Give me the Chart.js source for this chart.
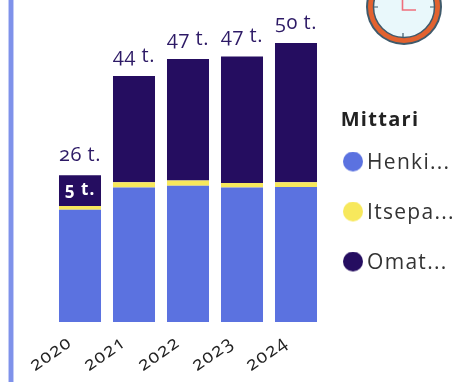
<!DOCTYPE html>
<html><head><meta charset="utf-8">
<style>
html,body{margin:0;padding:0;background:#fff;width:454px;height:382px;overflow:hidden}
#wrap{position:absolute;left:0;top:0;width:454px;height:382px}
#c{font-variant-numeric:oldstyle-nums;font-feature-settings:"onum" 1}
#rule{position:absolute;left:8px;top:0;width:6px;height:382px;background:#7f92ea;border-left:1px solid #c3ccf7;border-right:1px solid #c3ccf7;box-sizing:border-box}
#clock{position:absolute;left:354px;top:0}
</style>
<script src="https://cdn.jsdelivr.net/npm/chart.js@4"></script>
</head><body>
<div id="wrap"><canvas id="c" width="454" height="382"></canvas></div>
<div id="rule"></div>
<svg id="clock" width="100" height="60" viewBox="0 0 100 60">
<circle cx="50" cy="7" r="38" fill="#3f5a6b"/>
<circle cx="50" cy="7" r="36" fill="#e2622f"/>
<circle cx="50" cy="7" r="30.5" fill="#e9f8fb" stroke="#3f5a6b" stroke-width="1.5"/>
<path d="M48.5 -4V10H62" fill="none" stroke="#ef6f7c" stroke-width="1.6"/>
<path d="M49 33V37M20 7H24M80 7H76" stroke="#3f5a6b" stroke-width="1.2"/>
</svg>
<script>
const categories = ['2020','2021','2022','2023','2024'];
const henki = [20.1,24.1,24.4,24.1,24.2];
const itsepa = [0.7,0.95,0.95,0.8,0.85];
const omat = [5.5,19.05,21.8,22.7,24.95];
const totals = ['26 t.','44 t.','47 t.','47 t.','50 t.'];
const seriesNames = ['Henki...','Itsepa...','Omat...'];
const colors = ['#5b72e0','#f7e85c','#250d60'];

function dot(color){
  const s = document.createElement('canvas');
  s.width = 20; s.height = 24;
  const g = s.getContext('2d');
  g.fillStyle = color;
  g.beginPath(); g.arc(10,10,10,0,Math.PI*2); g.fill();
  return s;
}

const labelPlugin = {
  id:'labels',
  afterLayout(chart){
    const l = chart.legend;
    l.left = 320.5; l.width = 119;
    l.top -= 6; l.bottom -= 6;
  },
  beforeDraw(chart){ chart.ctx.letterSpacing = '1.3px'; },
  afterDatasetsDraw(chart){
    const ctx = chart.ctx, top = chart.getDatasetMeta(2).data;
    ctx.save();
    ctx.textAlign='center'; ctx.textBaseline='bottom';
    ctx.letterSpacing='0.5px';
    ctx.font='20px "Open Sans"'; ctx.fillStyle='#2d1a66';
    top.forEach((b,i)=>ctx.fillText(totals[i],b.x,b.y-10));
    ctx.letterSpacing='1px';
    ctx.font='bold 17px "Open Sans"'; ctx.fillStyle='#fff'; ctx.textBaseline='middle';
    ctx.fillText('5 t.',top[0].x,(top[0].y+top[0].base)/2);
    ctx.restore();
    ctx.letterSpacing='1.3px';
  }
};

new Chart(document.getElementById('c'),{
  type:'bar',
  data:{labels:categories,datasets:[
    {label:seriesNames[0],data:henki,backgroundColor:colors[0]},
    {label:seriesNames[1],data:itsepa,backgroundColor:colors[1]},
    {label:seriesNames[2],data:omat,backgroundColor:colors[2]}
  ]},
  options:{
    responsive:false,animation:false,
    layout:{padding:{left:53,right:0,top:43,bottom:0}},
    scales:{
      x:{stacked:true,grid:{display:false},border:{display:false},
         afterFit(s){ s.height = 60; },
         ticks:{maxRotation:35,minRotation:35,color:'#222',font:{family:'"Open Sans"',size:19},padding:1,labelOffset:-10}},
      y:{stacked:true,display:false,min:0,max:50}
    },
    datasets:{bar:{categoryPercentage:1,barPercentage:0.778}},
    plugins:{
      tooltip:{enabled:false},
      legend:{position:'right',align:'center',maxWidth:131,
        title:{display:true,text:'Mittari',color:'#222',position:'center',font:{family:'"Open Sans"',size:20,weight:'bold'},padding:{top:0,bottom:-10}},
        labels:{usePointStyle:true,boxHeight:14,pointStyleWidth:7,padding:29,color:'#333',font:{family:'"Open Sans"',size:21},
          generateLabels(chart){
            return Chart.defaults.plugins.legend.labels.generateLabels(chart).map((it,i)=>{
              it.pointStyle = dot(colors[i]);
              return it;
            });
          }}}
    }
  },
  plugins:[labelPlugin]
});
</script>
</body></html>
